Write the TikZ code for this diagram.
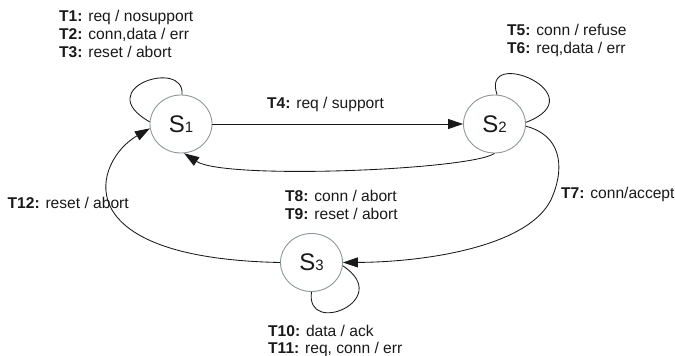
\documentclass[tikz,border=0pt]{standalone}
\usepackage{fontspec}
\setmainfont{Liberation Sans}
\usetikzlibrary{arrows.meta,shapes.geometric}
\definecolor{statering}{RGB}{140,150,156}
\definecolor{ink}{RGB}{25,25,25}
\tikzset{
  state/.style={ellipse, draw=statering, line width=0.9pt, minimum width=62pt,
    minimum height=58pt, inner sep=0pt, text=ink},
  trans/.style={draw=ink, line width=0.85pt},
  arr/.style={trans, -{Triangle[length=15pt,width=10pt]}},
  lbl/.style={anchor=base west, inner sep=0pt, text=ink,
    font=\fontsize{15.6}{18}\selectfont}
}
\newcommand{\stname}[1]{{\fontsize{24}{24}\selectfont S}{\fontsize{15}{15}\selectfont #1}}
\newcommand{\tl}[1]{\textbf{#1:}}
\begin{document}
\begin{tikzpicture}[x=1pt,y=-1pt]
\useasboundingbox (0,0) rectangle (675,356);

% states
\node[state] (s1) at (181,124) {\stname{1}};
\node[state] (s2) at (494.5,124) {\stname{2}};
\node[state] (s3) at (311.5,262.5) {\stname{3}};

% transitions
\draw[arr] (s1.east) -- (s2.west);
\draw[arr] (s2.south) .. controls (470,170) and (225,180) .. (s1.-84);
\draw[trans] (s1.88) .. controls (185,58) and (90,88) .. (s1.176);
\draw[arr] (s3.west) .. controls (60,258) and (95,160) .. (s1.188);
\draw[trans] (s2.85) .. controls (480,45) and (598,95) .. (s2.3);
\draw[arr] (s2.-4) .. controls (560,135) and (565,165) .. (553,195)
  .. controls (535,245) and (430,262) .. (s3.east);
\draw[trans] (s3.south) .. controls (305,337) and (395,300) .. (s3.-6);

% transition labels
\node[lbl] (t1) at (59,21.5) {\tl{T1} req / nosupport};
\node[lbl] (t2) at (59,39.5) {\tl{T2} conn,data / err};
\node[lbl] (t3) at (59,57.5) {\tl{T3} reset / abort};
\node[lbl] (t4) at (267,108.5) {\tl{T4} req / support};
\node[lbl] (t5) at (507,35.5) {\tl{T5} conn / refuse};
\node[lbl] (t6) at (507,53.5) {\tl{T6} req,data / err};
\node[lbl] (t7) at (561,198.5) {\tl{T7} conn/accept};
\node[lbl] (t8) at (285,201.5) {\tl{T8} conn / abort};
\node[lbl] (t9) at (285,219) {\tl{T9} reset / abort};
\node[lbl] (t10) at (268,336.5) {\tl{T10} data / ack};
\node[lbl] (t11) at (268,353.3) {\tl{T11} req, conn / err};
\node[lbl] (t12) at (7.5,208.5) {\tl{T12} reset / abort};
\end{tikzpicture}
\end{document}
